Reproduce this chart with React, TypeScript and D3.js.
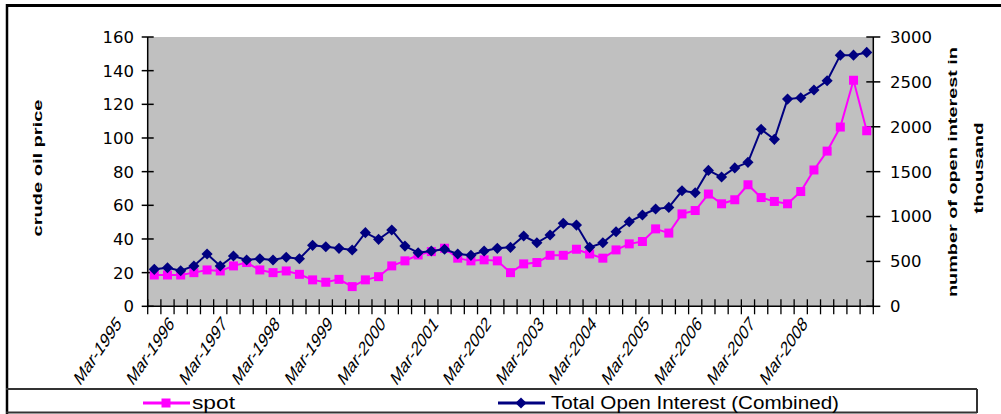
import React from 'react';
import * as d3 from 'd3';

// quarterly categories, Mar-1995 .. Sep-2008
const categories = [
  'Mar-1995', 'Jun-1995', 'Sep-1995', 'Dec-1995',
  'Mar-1996', 'Jun-1996', 'Sep-1996', 'Dec-1996',
  'Mar-1997', 'Jun-1997', 'Sep-1997', 'Dec-1997',
  'Mar-1998', 'Jun-1998', 'Sep-1998', 'Dec-1998',
  'Mar-1999', 'Jun-1999', 'Sep-1999', 'Dec-1999',
  'Mar-2000', 'Jun-2000', 'Sep-2000', 'Dec-2000',
  'Mar-2001', 'Jun-2001', 'Sep-2001', 'Dec-2001',
  'Mar-2002', 'Jun-2002', 'Sep-2002', 'Dec-2002',
  'Mar-2003', 'Jun-2003', 'Sep-2003', 'Dec-2003',
  'Mar-2004', 'Jun-2004', 'Sep-2004', 'Dec-2004',
  'Mar-2005', 'Jun-2005', 'Sep-2005', 'Dec-2005',
  'Mar-2006', 'Jun-2006', 'Sep-2006', 'Dec-2006',
  'Mar-2007', 'Jun-2007', 'Sep-2007', 'Dec-2007',
  'Mar-2008', 'Jun-2008', 'Sep-2008',
];

const spot = [
  18.6, 18.6, 18.6, 20.0, 21.6, 21.0, 24.0, 26.0, 21.6, 20.0, 21.0, 19.0,
  15.7, 14.3, 16.0, 11.7, 15.7, 17.6, 24.0, 27.0, 30.5, 32.5, 34.5, 28.6,
  27.0, 27.6, 27.0, 20.0, 25.2, 26.0, 30.3, 30.3, 33.9, 31.1, 28.6, 33.5,
  37.1, 38.5, 46.0, 43.5, 54.9, 56.9, 66.7, 60.9, 63.3, 72.2, 64.6, 62.3,
  60.9, 68.2, 81.0, 92.2, 106.5, 134.3, 104.3,
];

const openInterest = [
  412, 430, 396, 449, 582, 449, 560, 516, 530, 516, 546, 530,
  679, 664, 646, 627, 820, 746, 850, 671, 597, 616, 635, 582,
  568, 616, 646, 657, 783, 708, 794, 924, 905, 657, 708, 831,
  942, 1017, 1084, 1102, 1287, 1265, 1514, 1440, 1542, 1604, 1971, 1860,
  2308, 2323, 2409, 2512, 2798, 2798, 2828,
];

const leftTicks = [0, 20, 40, 60, 80, 100, 120, 140, 160];
const rightTicks = [0, 500, 1000, 1500, 2000, 2500, 3000];

const PINK = '#FF00FF';
const NAVY = '#000080';

const plot = { left: 147.7, right: 873.3, top: 37, bottom: 306.3 };

const x = d3.scaleBand<number>()
  .domain(d3.range(categories.length))
  .range([plot.left, plot.right])
  .padding(0);
const cx = (i: number) => (x(i) as number) + x.bandwidth() / 2;

const yLeft = d3.scaleLinear().domain([0, 160]).range([plot.bottom, plot.top]);
const yRight = d3.scaleLinear().domain([0, 3000]).range([plot.bottom, plot.top]);

const spotLine = d3.line<number>().x((_, i) => cx(i)).y(d => yLeft(d));
const oiLine = d3.line<number>().x((_, i) => cx(i)).y(d => yRight(d));
const diamond = d3.symbol(d3.symbolSquare, 62)();

const tickFont = '"DejaVu Sans", sans-serif';
const sans = "'Liberation Sans', Arial, sans-serif";

function Square({ px, py }: { px: number; py: number }) {
  return <rect x={px - 4.5} y={py - 4.5} width={9} height={9} fill={PINK} />;
}

function Diamond({ px, py }: { px: number; py: number }) {
  return <path d={diamond as string} transform={`translate(${px},${py}) rotate(45)`} fill={NAVY} />;
}

export default function App() {
  const boundaries = d3.range(categories.length + 1).map(k => plot.left + k * x.bandwidth());
  return (
    <svg width={1001} height={414} style={{ position: 'absolute', left: 0, top: 0, background: '#fff' }}>
      {/* frame */}
      <line x1={6} x2={1001} y1={5.5} y2={5.5} stroke="#000" strokeWidth={3} />
      <line x1={7} x2={7} y1={4} y2={414} stroke="#000" strokeWidth={2.5} />
      <line x1={6} x2={977} y1={389} y2={389} stroke="#333" strokeWidth={2} />
      <line x1={977} x2={977} y1={389} y2={413} stroke="#333" strokeWidth={2} />
      <line x1={6} x2={977} y1={412.5} y2={412.5} stroke="#333" strokeWidth={2} />

      {/* plot area */}
      <rect x={plot.left} y={plot.top} width={plot.right - plot.left} height={plot.bottom - plot.top} fill="#C0C0C0" />

      {/* left axis */}
      <line x1={plot.left} x2={plot.left} y1={plot.top} y2={plot.bottom + 1} stroke="#000" strokeWidth={1.5} />
      {leftTicks.map(t => (
        <g key={t}>
          <line x1={plot.left - 6} x2={plot.left + 6} y1={yLeft(t)} y2={yLeft(t)} stroke="#000" strokeWidth={1.5} />
          <text x={134} y={yLeft(t)} dy="0.36em" textAnchor="end" fontFamily={tickFont} fontSize={16.5} fill="#000">{t}</text>
        </g>
      ))}

      {/* right axis */}
      <line x1={plot.right} x2={plot.right} y1={plot.top} y2={plot.bottom + 1} stroke="#000" strokeWidth={1.5} />
      {rightTicks.map(t => (
        <g key={t}>
          <line x1={plot.right - 7} x2={plot.right + 7} y1={yRight(t)} y2={yRight(t)} stroke="#000" strokeWidth={1.5} />
          <text x={890} y={yRight(t)} dy="0.36em" textAnchor="start" fontFamily={tickFont} fontSize={16.5} fill="#000">{t}</text>
        </g>
      ))}

      {/* x axis */}
      <line x1={plot.left} x2={plot.right} y1={plot.bottom} y2={plot.bottom} stroke="#000" strokeWidth={1.5} />
      {boundaries.map((bx, k) => (
        <line key={k} x1={bx} x2={bx} y1={plot.bottom - 7} y2={plot.bottom + 8} stroke="#000" strokeWidth={1.3} />
      ))}
      {categories.map((c, i) => i % 4 === 0 ? (
        <text key={c} transform={`translate(${cx(i) - 32},${325}) scale(1,1.45) rotate(-45)`}
          textAnchor="end" fontFamily={sans} fontSize={14} fill="#000">{c}</text>
      ) : null)}

      {/* series */}
      <path d={spotLine(spot) as string} fill="none" stroke={PINK} strokeWidth={2} />
      {spot.map((v, i) => <Square key={i} px={cx(i)} py={yLeft(v)} />)}
      <path d={oiLine(openInterest) as string} fill="none" stroke={NAVY} strokeWidth={2} />
      {openInterest.map((v, i) => <Diamond key={i} px={cx(i)} py={yRight(v)} />)}

      {/* axis titles */}
      <text transform="translate(42,168) rotate(-90)" textAnchor="middle" fontFamily={sans}
        fontWeight="bold" fontSize={13} textLength={137} lengthAdjust="spacingAndGlyphs">crude oil price</text>
      <text transform="translate(957,172) rotate(-90)" textAnchor="middle" fontFamily={sans}
        fontWeight="bold" fontSize={13} textLength={250} lengthAdjust="spacingAndGlyphs">number of open interest in</text>
      <text transform="translate(983,168) rotate(-90)" textAnchor="middle" fontFamily={sans}
        fontWeight="bold" fontSize={13} textLength={91} lengthAdjust="spacingAndGlyphs">thousand</text>

      {/* legend */}
      <line x1={143} x2={190} y1={403} y2={403} stroke={PINK} strokeWidth={3} />
      <Square px={166} py={403} />
      <text x={192} y={409} fontFamily={sans} fontSize={18}
        textLength={43} lengthAdjust="spacingAndGlyphs">spot</text>
      <line x1={498} x2={545} y1={403} y2={403} stroke={NAVY} strokeWidth={3} />
      <Diamond px={521} py={403} />
      <text x={551} y={409} fontFamily={sans} fontSize={18}
        textLength={288} lengthAdjust="spacingAndGlyphs">Total Open Interest (Combined)</text>
    </svg>
  );
}
